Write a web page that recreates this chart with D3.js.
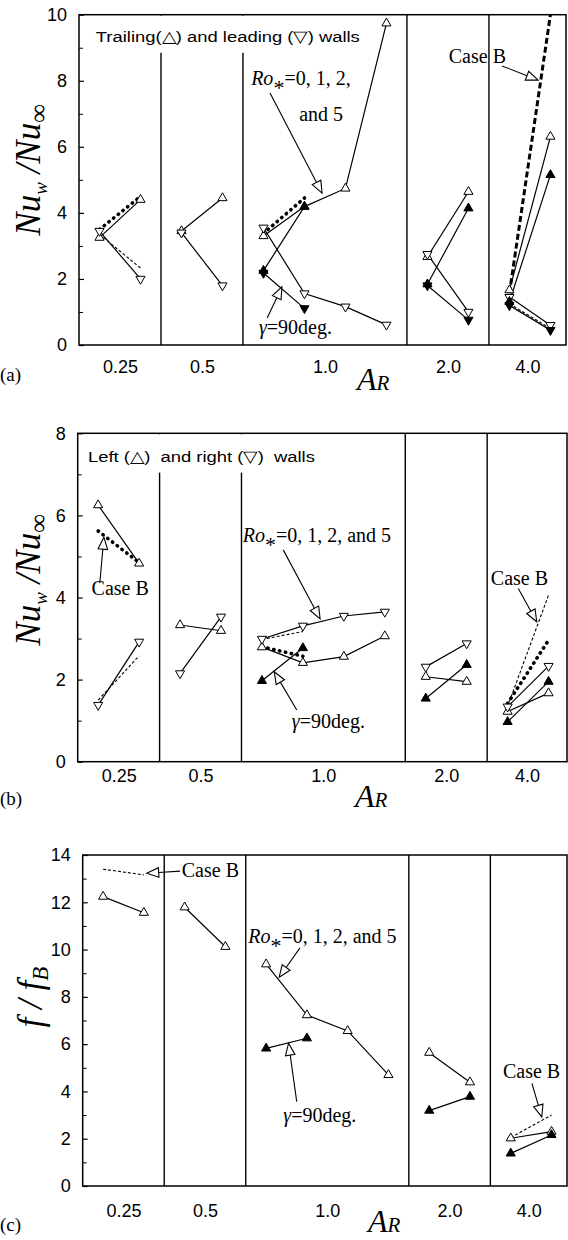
<!DOCTYPE html>
<html><head><meta charset="utf-8">
<script src="https://cdn.jsdelivr.net/npm/d3@7"></script>
<style>body{margin:0;background:#fff}svg{display:block}text{white-space:pre}</style>
</head><body>
<svg id="chart" width="568" height="1240"></svg>
<script>
// ---------- DATA ----------
const categories = ["0.25", "0.5", "1.0", "2.0", "4.0"];
const slotsPerCategory = [2, 2, 4, 2, 2];

const yTicksA = [0, 2, 4, 6, 8, 10];
const yTicksB = [0, 2, 4, 6, 8];
const yTicksC = [0, 2, 4, 6, 8, 10, 12, 14];

// Panel (a): trailing (up) / leading (down) walls; each entry = one AR category, values at Ro* = 0,1,2,5
const A_trailing = [[3.25, 4.4], [3.45, 4.45], [3.3, 4.19, 4.74, 9.74], [2.67, 4.64], [1.66, 6.31]];
const A_leading = [[3.45, 2.0], [3.4, 1.8], [3.55, 1.56, 1.16, 0.61], [2.75, 1.0], [1.45, 0.6]];
const A_trailing90 = [null, null, [2.25, 4.19], [1.84, 4.14], [1.31, 5.15]];
const A_leading90 = [null, null, [2.18, 1.11], [1.8, 0.76], [1.2, 0.45]];
const A_caseB_dots = [[3.5, 4.5], null, [3.38, 4.45], null, null];
const A_caseB_bold = [null, null, null, null, [1.57, 10.0]];
const A_caseB_thin = [[3.35, 2.33], null, null, null, [1.25, 0.5]];

// Panel (b): left (up) / right (down) walls
const B_left = [[6.25, 4.83], [3.33, 3.19], [2.79, 2.41, 2.56, 3.06], [2.07, 1.95], [1.22, 1.67]];
const B_right = [[1.38, 2.92], [2.15, 3.53], [2.99, 3.31, 3.55, 3.65], [2.31, 2.88], [1.34, 2.33]];
const B_left90 = [null, null, [1.97, 2.77], [1.54, 2.36], [0.97, 1.95]];
const B_caseB_dots = [[5.62, 4.85], null, [2.8, 2.57], null, [1.42, 2.96]];
const B_caseB_thin = [[1.5, 2.58], null, [2.98, 3.17], null, [1.35, 4.06]];

// Panel (c): friction factor ratio
const C_ro = [[12.24, 11.56], [11.79, 10.12], [9.38, 7.23, 6.56, 4.7], [5.64, 4.39], [2.02, 2.3]];
const C_ro90 = [null, null, [5.82, 6.25], [3.19, 3.78], [1.38, 2.16]];
const C_caseB_thin = [[13.4, 13.16], null, null, null, [2.05, 3.0]];

// ---------- LAYOUT ----------
const svg = d3.select("#chart");
const starts = [];
slotsPerCategory.reduce((acc, s) => { starts.push(acc); return acc + s; }, 0);
const centers = starts.map((s, i) => i < 4 ? s + slotsPerCategory[i] / 2 : null);

const SANS = "'Liberation Sans', Arial, sans-serif";
const SERIF = "'Liberation Serif', 'Times New Roman', serif";

const styles = {
  solid: {w: 1.2, dash: null, cap: "butt"},
  dots: {w: 3.6, dash: "0.4,5.6", cap: "round"},
  bold: {w: 3, dash: "6,3", cap: "butt"},
  thin: {w: 1.1, dash: "3,2", cap: "butt"}
};

function drawPanel(cfg) {
  const g = svg.append("g");
  const x = d3.scaleLinear().domain([0, cfg.slotEnd]).range([cfg.left, cfg.right]);
  const y = d3.scaleLinear().domain([0, cfg.yMax]).range([cfg.bottom, cfg.top]);
  centers[4] = (starts[4] + cfg.slotEnd) / 2;

  // dividers
  starts.slice(1).forEach(s => {
    g.append("line").attr("x1", x(s)).attr("x2", x(s)).attr("y1", cfg.top).attr("y2", cfg.bottom)
      .attr("stroke", "#000").attr("stroke-width", 1.4);
  });

  // header with white background
  if (cfg.header) {
    const h = cfg.header;
    g.append("rect").attr("x", x(h.x) - 6).attr("y", cfg.top + 1)
      .attr("width", h.len + 12).attr("height", y(h.y) - cfg.top + 10).attr("fill", "#fff");
    g.append("text").attr("x", x(h.x)).attr("y", y(h.y)).attr("font-family", SANS)
      .attr("font-size", 15.5).attr("textLength", h.len).attr("lengthAdjust", "spacingAndGlyphs")
      .text(h.text);
  }

  // box
  g.append("rect").attr("x", cfg.left).attr("y", cfg.top).attr("width", cfg.right - cfg.left)
    .attr("height", cfg.bottom - cfg.top).attr("fill", "none").attr("stroke", "#000").attr("stroke-width", 1.5);

  // y axis
  const minor = d3.range(1, cfg.yMax, 2);
  const ya = g.append("g").attr("transform", `translate(${cfg.left},0)`)
    .call(d3.axisLeft(y).tickValues(cfg.yTicks).tickSize(-5).tickPadding(12).tickFormat(d3.format("d")));
  ya.select(".domain").remove();
  ya.selectAll("text").attr("font-family", SANS).attr("font-size", 18).attr("fill", "#000");
  ya.selectAll("line").attr("stroke-width", 1.2);
  const ym = g.append("g").attr("transform", `translate(${cfg.left},0)`)
    .call(d3.axisLeft(y).tickValues(minor).tickSize(-4).tickFormat(""));
  ym.select(".domain").remove();

  // x axis (category labels)
  const xa = g.append("g").attr("transform", `translate(0,${cfg.bottom})`)
    .call(d3.axisBottom(x).tickValues(centers).tickSize(0).tickPadding(cfg.xPad)
      .tickFormat((d, i) => categories[i]));
  xa.select(".domain").remove();
  xa.selectAll("text").attr("font-family", SANS).attr("font-size", 18).attr("fill", "#000");

  // clip
  const clipId = "clip" + cfg.id;
  svg.append("clipPath").attr("id", clipId).append("rect")
    .attr("x", cfg.left).attr("y", cfg.top).attr("width", cfg.right - cfg.left).attr("height", cfg.bottom - cfg.top);
  const plot = g.append("g").attr("clip-path", `url(#${clipId})`);

  const line = d3.line().x(d => d[0]).y(d => d[1]);
  const ptsOf = (arr, c) => arr.map((v, i) => [x(starts[c] + 0.5 + i), y(v)]);

  // lines
  cfg.series.forEach(s => {
    const st = styles[s.style];
    s.data.forEach((arr, c) => {
      if (!arr) return;
      plot.append("path").attr("d", line(ptsOf(arr, c))).attr("fill", "none")
        .attr("stroke", "#000").attr("stroke-width", st.w)
        .attr("stroke-dasharray", st.dash).attr("stroke-linecap", st.cap);
    });
  });
  // markers
  const tri = d3.symbol(d3.symbolTriangle, 36);
  cfg.series.filter(s => s.marker).forEach(s => {
    s.data.forEach((arr, c) => {
      if (!arr) return;
      ptsOf(arr, c).forEach(p => {
        plot.append("path").attr("d", tri())
          .attr("transform", `translate(${p[0]},${p[1]})` + (s.marker === "down" ? " rotate(180)" : ""))
          .attr("fill", s.filled ? "#000" : "#fff").attr("stroke", "#000").attr("stroke-width", 1);
      });
    });
  });

  // annotations
  cfg.arrows.forEach(a => {
    const x1 = x(a[0]), y1 = y(a[1]), x2 = x(a[2]), y2 = y(a[3]);
    const ang = Math.atan2(y2 - y1, x2 - x1);
    const L = 12, W = 4.8;
    const bx = x2 - L * Math.cos(ang), by = y2 - L * Math.sin(ang);
    g.append("line").attr("x1", x1).attr("y1", y1).attr("x2", bx).attr("y2", by)
      .attr("stroke", "#000").attr("stroke-width", 1.1);
    const px = -Math.sin(ang) * W, py = Math.cos(ang) * W;
    g.append("path").attr("d", `M${x2},${y2}L${bx + px},${by + py}L${bx - px},${by - py}Z`)
      .attr("fill", "#fff").attr("stroke", "#000").attr("stroke-width", 1.1);
  });
  cfg.labels.forEach(l => {
    const t = g.append("text").attr("x", x(l.x)).attr("y", y(l.y)).attr("font-family", SERIF).attr("font-size", 20);
    if (l.kind === "ro") {
      t.append("tspan").attr("font-style", "italic").text("Ro");
      t.append("tspan").attr("dy", 10).attr("font-size", 22).text("*");
      t.append("tspan").attr("dy", -10).text(l.text);
    } else if (l.kind === "gamma") {
      t.append("tspan").attr("font-style", "italic").text("γ");
      t.append("tspan").text("=90deg.");
    } else {
      t.text(l.text);
    }
  });

  // axis titles
  const yl = g.append("text").attr("transform", `translate(${cfg.yLab[0]},${cfg.yLab[1]}) rotate(-90)`)
    .attr("text-anchor", "middle").attr("font-family", SERIF).attr("font-style", "italic").attr("font-size", 35);
  if (cfg.id === "c") {
    yl.append("tspan").text("f / f");
    yl.append("tspan").attr("font-size", 23).attr("dy", 6).text("B");
  } else {
    yl.append("tspan").text("Nu");
    yl.append("tspan").attr("font-size", 19).attr("dy", 7).text("w");
    yl.append("tspan").attr("dy", -7).text(" /Nu");
    yl.append("tspan").attr("font-size", 26).attr("dy", 7).text("∞");
  }
  const xl = g.append("text").attr("x", cfg.xLab[0]).attr("y", cfg.xLab[1])
    .attr("font-family", SERIF).attr("font-style", "italic");
  xl.append("tspan").attr("font-size", 32).text("A");
  xl.append("tspan").attr("font-size", 21).text("R");
  g.append("text").attr("x", 0).attr("y", cfg.tag[1]).attr("font-family", SERIF).attr("font-size", 19).text(cfg.tag[0]);
}

drawPanel({
  id: "a", left: 79, right: 566, slotEnd: 11.88, top: 14.7, bottom: 345, yMax: 10, yTicks: yTicksA, xPad: 15,
  header: {text: "Trailing(△) and leading (▽) walls", x: 0.41, y: 9.18, len: 264},
  series: [
    {data: A_caseB_dots, style: "dots"},
    {data: A_caseB_bold, style: "bold"},
    {data: A_caseB_thin, style: "thin"},
    {data: A_trailing, style: "solid", marker: "up"},
    {data: A_leading, style: "solid", marker: "down"},
    {data: A_trailing90, style: "solid", marker: "up", filled: true},
    {data: A_leading90, style: "solid", marker: "down", filled: true}
  ],
  arrows: [[4.66, 7.63, 5.93, 4.6], [4.59, 0.82, 4.95, 1.76], [10.32, 8.45, 11.2, 8.02]],
  labels: [
    {kind: "ro", x: 4.2, y: 7.87, text: "=0, 1, 2,"},
    {x: 5.37, y: 6.78, text: "and 5"},
    {kind: "gamma", x: 4.39, y: 0.33},
    {x: 9.02, y: 8.54, text: "Case B"}
  ],
  yLab: [40, 170], xLab: [357, 390], tag: ["(a)", 381]
});

drawPanel({
  id: "b", left: 77.7, right: 567, slotEnd: 11.95, top: 433.3, bottom: 761.7, yMax: 8, yTicks: yTicksB, xPad: 8,
  header: {text: "Left (△)  and right (▽)  walls", x: 0.25, y: 7.31, len: 227},
  series: [
    {data: B_caseB_dots, style: "dots"},
    {data: B_caseB_thin, style: "thin"},
    {data: B_left, style: "solid", marker: "up"},
    {data: B_right, style: "solid", marker: "down"},
    {data: B_left90, style: "solid", marker: "up", filled: true}
  ],
  arrows: [[0.54, 4.35, 0.64, 5.47], [5.02, 5.16, 5.92, 3.48], [5.35, 1.26, 4.8, 2.19], [10.76, 4.22, 11.21, 3.41]],
  labels: [
    {x: 0.34, y: 4.06, text: "Case B"},
    {kind: "ro", x: 4.03, y: 5.34, text: "=0, 1, 2, and 5"},
    {kind: "gamma", x: 5.23, y: 0.81},
    {x: 10.09, y: 4.3, text: "Case B"}
  ],
  yLab: [40, 580], xLab: [355, 807], tag: ["(b)", 805]
});

drawPanel({
  id: "c", left: 82.7, right: 567, slotEnd: 11.88, top: 855, bottom: 1186, yMax: 14, yTicks: yTicksC, xPad: 18,
  series: [
    {data: C_caseB_thin, style: "thin"},
    {data: C_ro, style: "solid", marker: "up"},
    {data: C_ro90, style: "solid", marker: "up", filled: true}
  ],
  arrows: [[2.39, 13.32, 1.57, 13.23], [5.33, 10.07, 4.82, 8.83], [5.25, 3.57, 5.05, 6.04], [11.02, 4.34, 11.26, 2.92]],
  labels: [
    {x: 2.43, y: 13.08, text: "Case B"},
    {kind: "ro", x: 4.06, y: 10.27, text: "=0, 1, 2, and 5"},
    {kind: "gamma", x: 4.92, y: 2.72},
    {x: 10.31, y: 4.56, text: "Case B"}
  ],
  yLab: [42, 997], xLab: [368, 1232], tag: ["(c)", 1231]
});
</script>
</body></html>
